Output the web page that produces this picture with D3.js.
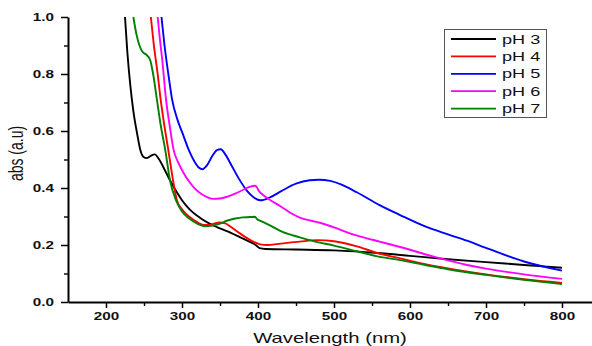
<!DOCTYPE html>
<html>
<head>
<meta charset="utf-8">
<script src="https://cdn.jsdelivr.net/npm/d3@7"></script>
<style>
  body { margin: 0; background: #fff; }
  svg { display: block; }
  text { font-family: "Liberation Sans", Arial, sans-serif; fill: #111; }
</style>
</head>
<body>
<div id="chart"></div>
<script>
// spectra: [wavelength nm, absorbance]
const ph3 = [[225,1.0],[228,0.88],[232,0.76],[236,0.67],[241,0.59],[245,0.535],[249,0.51],[254,0.505],[259,0.513],[264,0.518],[270,0.5],[277,0.465],[284,0.428],[292,0.39],[300,0.357],[310,0.325],[324,0.295],[335,0.277],[346,0.263],[360,0.248],[376,0.228],[390,0.21],[397,0.2],[402,0.189],[410,0.186],[450,0.184],[500,0.181],[557,0.172],[600,0.162],[650,0.15],[700,0.14],[750,0.13],[800,0.12]];
const ph4 = [[259,1.0],[263,0.9],[268,0.8],[272,0.708],[277,0.615],[282,0.533],[288,0.43],[293,0.36],[300,0.325],[310,0.298],[320,0.28],[328,0.27],[336,0.27],[343,0.276],[350,0.279],[357,0.276],[365,0.262],[375,0.243],[385,0.225],[395,0.21],[403,0.202],[412,0.2],[430,0.205],[455,0.212],[478,0.217],[500,0.213],[530,0.195],[557,0.172],[587,0.153],[620,0.133],[650,0.118],[700,0.097],[750,0.08],[800,0.067]];
const ph5 = [[273,1.0],[277,0.9],[282,0.8],[287,0.71],[294,0.64],[301,0.59],[309,0.533],[316,0.495],[322,0.472],[327,0.466],[333,0.48],[340,0.513],[346,0.533],[351,0.536],[357,0.518],[365,0.48],[375,0.432],[385,0.392],[395,0.366],[403,0.357],[415,0.366],[430,0.388],[450,0.415],[468,0.427],[480,0.429],[495,0.425],[510,0.412],[530,0.385],[560,0.34],[587,0.305],[620,0.265],[650,0.237],[675,0.215],[700,0.19],[750,0.142],[800,0.11]];
const ph6 = [[268,1.0],[271,0.92],[274,0.85],[279,0.71],[284,0.615],[289,0.533],[295,0.49],[301,0.458],[310,0.42],[318,0.395],[326,0.378],[334,0.367],[341,0.362],[350,0.363],[360,0.37],[370,0.38],[380,0.393],[389,0.404],[396,0.408],[398,0.405],[401,0.39],[408,0.373],[416,0.358],[429,0.337],[442,0.314],[455,0.296],[470,0.285],[480,0.279],[500,0.262],[520,0.242],[540,0.226],[560,0.212],[587,0.193],[630,0.16],[675,0.13],[700,0.117],[750,0.097],[800,0.081]];
const ph7 = [[236,1.0],[240,0.94],[244,0.9],[248,0.878],[253,0.868],[258,0.85],[262,0.8],[267,0.71],[272,0.62],[278,0.533],[284,0.43],[292,0.357],[300,0.318],[310,0.292],[320,0.275],[330,0.266],[340,0.268],[350,0.275],[360,0.286],[370,0.293],[380,0.297],[390,0.298],[396,0.299],[399,0.29],[403,0.285],[415,0.27],[433,0.245],[455,0.227],[478,0.21],[500,0.198],[530,0.178],[557,0.16],[587,0.147],[620,0.13],[650,0.115],[700,0.095],[750,0.078],[800,0.063]];

const seriesNames = ["pH 3", "pH 4", "pH 5", "pH 6", "pH 7"];
const seriesColors = ["#000000", "#ff0000", "#0000ff", "#ff00ff", "#008000"];
const xTicks = [200, 300, 400, 500, 600, 700, 800];
const xMinorTicks = [250, 350, 450, 550, 650, 750, 850];
const yTicks = [0, 0.2, 0.4, 0.6, 0.8, 1.0];
const yMinorTicks = [0.1, 0.3, 0.5, 0.7, 0.9];

const W = 592, H = 346;
const SX = 1.45; // the source picture is stretched sideways, text too

const svg = d3.select("#chart").append("svg")
	.attr("width", W)
	.attr("height", H);

const x = d3.scaleLinear().domain([150, 850]).range([68, 600]);
const y = d3.scaleLinear().domain([0, 1]).range([302, 17]);

// minor ticks first, majors + labels on top
svg.append("g")
	.attr("transform", `translate(0,${y(0)})`)
	.call(d3.axisBottom(x).tickValues(xMinorTicks).tickSize(4).tickFormat(""))
	.call(g => g.select(".domain").remove())
	.call(g => g.selectAll("line").attr("stroke-width", 1.4));
svg.append("g")
	.attr("transform", `translate(${x(150)},0)`)
	.call(d3.axisLeft(y).tickValues(yMinorTicks).tickSize(4).tickFormat(""))
	.call(g => g.select(".domain").remove())
	.call(g => g.selectAll("line").attr("stroke-width", 1.4));

const gx = svg.append("g")
	.attr("transform", `translate(0,${y(0)})`)
	.call(d3.axisBottom(x).tickValues(xTicks).tickSize(6).tickSizeOuter(0).tickPadding(5).tickFormat(d3.format("d")));

const gy = svg.append("g")
	.attr("transform", `translate(${x(150)},0)`)
	.call(d3.axisLeft(y).tickValues(yTicks).tickSize(7).tickSizeOuter(0).tickFormat(d3.format(".1f")));

[gx, gy].forEach(g => {
	g.select(".domain").attr("stroke-width", 2);
	g.selectAll(".tick line").attr("stroke-width", 1.5);
	g.selectAll(".tick text")
		.style("font-family", "'Liberation Sans', Arial, sans-serif")
		.style("font-weight", "bold")
		.style("font-size", "10.5px")
		.attr("fill", "#111");
});
gx.selectAll(".tick text").attr("transform", `scale(${SX},1)`);
gy.selectAll(".tick text")
	.attr("x", -14 / SX)
	.attr("dy", "0.35em")
	.attr("transform", `scale(${SX},1)`);

// axis titles
svg.append("text")
	.attr("transform", `translate(${(x(150) + x(850)) / 2 - 4},343) scale(${SX},1)`)
	.attr("text-anchor", "middle")
	.style("font-size", "14px")
	.text("Wavelength (nm)");

svg.append("text")
	.attr("transform", `translate(23,${(y(0) + y(1)) / 2 - 6}) scale(${SX},1) rotate(-90)`)
	.attr("text-anchor", "middle")
	.style("font-size", "14px")
	.text("abs (a.u)");

// curves
const line = d3.line()
	.x(d => x(d[0]))
	.y(d => y(d[1]))
	.curve(d3.curveMonotoneX);

const allSeries = [ph3, ph4, ph5, ph6, ph7];
svg.append("g")
	.selectAll("path")
	.data(allSeries)
	.join("path")
	.attr("d", line)
	.attr("fill", "none")
	.attr("stroke", (d, i) => seriesColors[i])
	.attr("stroke-width", 1.9)
	.attr("stroke-linejoin", "round");

// legend
const legend = svg.append("g");
legend.append("rect")
	.attr("x", 444.5).attr("y", 29.5)
	.attr("width", 102).attr("height", 88)
	.attr("fill", "#fff")
	.attr("stroke", "#555")
	.attr("stroke-width", 1);

const rows = legend.selectAll(".row")
	.data(seriesNames)
	.join("g")
	.attr("class", "row")
	.attr("transform", (d, i) => `translate(0,${39 + i * 17.4})`);

rows.append("line")
	.attr("x1", 451).attr("x2", 496)
	.attr("stroke", (d, i) => seriesColors[i])
	.attr("stroke-width", 1.8);

rows.append("text")
	.attr("transform", `translate(502,4.5) scale(${SX},1)`)
	.style("font-size", "12.5px")
	.text(d => d);
</script>
</body>
</html>
